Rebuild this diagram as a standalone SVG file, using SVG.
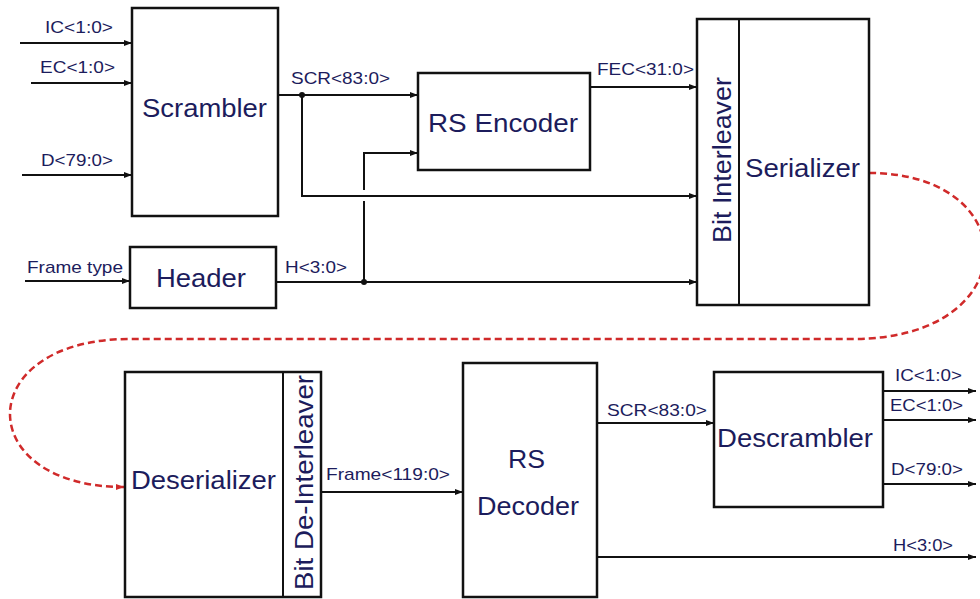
<svg xmlns="http://www.w3.org/2000/svg" width="980" height="599" viewBox="0 0 980 599">
<style>
.box{fill:#fff;stroke:#111;stroke-width:2.5}
.w{fill:none;stroke:#111;stroke-width:2}
.lbl{font-family:"Liberation Sans",Arial,sans-serif;font-size:17px;fill:#1c1c5c}
.big{font-family:"Liberation Sans",Arial,sans-serif;font-size:26px;fill:#1c1c5c}
.red{fill:none;stroke:#d02a2a;stroke-width:2.5;stroke-dasharray:7 4}
</style>
<defs>
<marker id="ar" markerUnits="userSpaceOnUse" markerWidth="8" markerHeight="6" refX="8" refY="3" orient="auto"><path d="M0,0 L8,3 L0,6 z" fill="#111"/></marker>
<marker id="arr" markerUnits="userSpaceOnUse" markerWidth="8" markerHeight="6" refX="8" refY="3" orient="auto"><path d="M0,0 L8,3 L0,6 z" fill="#d02a2a"/></marker>
</defs>
<rect width="980" height="599" fill="#fff"/>

<g id="connectors">
<path class="w" d="M20,43 H132" marker-end="url(#ar)"/>
<path class="w" d="M31,83 H132" marker-end="url(#ar)"/>
<path class="w" d="M22,175 H132" marker-end="url(#ar)"/>
<path class="w" d="M25,281 H130" marker-end="url(#ar)"/>
<path class="w" d="M278,95 H418" marker-end="url(#ar)"/>
<path class="w" d="M302,95 V196 H697" marker-end="url(#ar)"/>
<path class="w" d="M364,190 V153 H418" marker-end="url(#ar)"/>
<path class="w" d="M364,282 V201"/>
<path class="w" d="M276,282 H697" marker-end="url(#ar)"/>
<circle cx="302" cy="95" r="3" fill="#111"/>
<circle cx="364" cy="282" r="3" fill="#111"/>
<path class="w" d="M590,87 H697" marker-end="url(#ar)"/>
<path class="red" d="M869,173 C1026,173 1026,339 853,339 L130,339 C-29,339 -29,487 124,487" marker-end="url(#arr)"/>
<path class="w" d="M321,492 H463" marker-end="url(#ar)"/>
<path class="w" d="M597,423 H714" marker-end="url(#ar)"/>
<path class="w" d="M883,391 H976" marker-end="url(#ar)"/>
<path class="w" d="M883,420 H976" marker-end="url(#ar)"/>
<path class="w" d="M883,484 H976" marker-end="url(#ar)"/>
<path class="w" d="M597,557 H976" marker-end="url(#ar)"/>
<text class="lbl" x="45" y="33" textLength="68" lengthAdjust="spacingAndGlyphs">IC&lt;1:0&gt;</text>
<text class="lbl" x="40" y="73" textLength="75" lengthAdjust="spacingAndGlyphs">EC&lt;1:0&gt;</text>
<text class="lbl" x="41" y="166" textLength="72" lengthAdjust="spacingAndGlyphs">D&lt;79:0&gt;</text>
<text class="lbl" x="27" y="273" textLength="96" lengthAdjust="spacingAndGlyphs">Frame type</text>
<text class="lbl" x="291" y="84" textLength="99" lengthAdjust="spacingAndGlyphs">SCR&lt;83:0&gt;</text>
<text class="lbl" x="285" y="273" textLength="62" lengthAdjust="spacingAndGlyphs">H&lt;3:0&gt;</text>
<text class="lbl" x="597" y="75" textLength="97" lengthAdjust="spacingAndGlyphs">FEC&lt;31:0&gt;</text>
<text class="lbl" x="326" y="480" textLength="124" lengthAdjust="spacingAndGlyphs">Frame&lt;119:0&gt;</text>
<text class="lbl" x="607" y="416" textLength="100" lengthAdjust="spacingAndGlyphs">SCR&lt;83:0&gt;</text>
<text class="lbl" x="895" y="381" textLength="67" lengthAdjust="spacingAndGlyphs">IC&lt;1:0&gt;</text>
<text class="lbl" x="890" y="411" textLength="73" lengthAdjust="spacingAndGlyphs">EC&lt;1:0&gt;</text>
<text class="lbl" x="891" y="475" textLength="72" lengthAdjust="spacingAndGlyphs">D&lt;79:0&gt;</text>
<text class="lbl" x="893" y="551" textLength="60" lengthAdjust="spacingAndGlyphs">H&lt;3:0&gt;</text>
</g>

<g id="scrambler">
<rect class="box" x="132" y="8" width="146" height="208"/>
<text class="big" x="142" y="117" textLength="125" lengthAdjust="spacingAndGlyphs">Scrambler</text>
</g>
<g id="header">
<rect class="box" x="130" y="247" width="146" height="61"/>
<text class="big" x="156" y="287" textLength="90" lengthAdjust="spacingAndGlyphs">Header</text>
</g>
<g id="rs-encoder">
<rect class="box" x="418" y="73" width="172" height="97"/>
<text class="big" x="428" y="132" textLength="150" lengthAdjust="spacingAndGlyphs">RS Encoder</text>
</g>
<g id="serializer">
<rect class="box" x="697" y="19" width="172" height="286"/>
<line class="w" x1="739" y1="19" x2="739" y2="305" stroke-width="2.5"/>
<text class="big" x="745" y="177" textLength="115" lengthAdjust="spacingAndGlyphs">Serializer</text>
<text class="big" transform="translate(731,243) rotate(-90)" x="0" y="0" textLength="166" lengthAdjust="spacingAndGlyphs">Bit Interleaver</text>
</g>
<g id="deserializer">
<rect class="box" x="125" y="372" width="196" height="225"/>
<line class="w" x1="283" y1="372" x2="283" y2="597" stroke-width="2.5"/>
<text class="big" x="131" y="489" textLength="145" lengthAdjust="spacingAndGlyphs">Deserializer</text>
<text class="big" transform="translate(313,590) rotate(-90)" x="0" y="0" textLength="215" lengthAdjust="spacingAndGlyphs">Bit De-Interleaver</text>
</g>
<g id="rs-decoder">
<rect class="box" x="463" y="363" width="134" height="234"/>
<text class="big" x="508" y="468" textLength="37" lengthAdjust="spacingAndGlyphs">RS</text>
<text class="big" x="477" y="515" textLength="102" lengthAdjust="spacingAndGlyphs">Decoder</text>
</g>
<g id="descrambler">
<rect class="box" x="714" y="372" width="169" height="135"/>
<text class="big" x="717" y="447" textLength="156" lengthAdjust="spacingAndGlyphs">Descrambler</text>
</g>
</svg>
